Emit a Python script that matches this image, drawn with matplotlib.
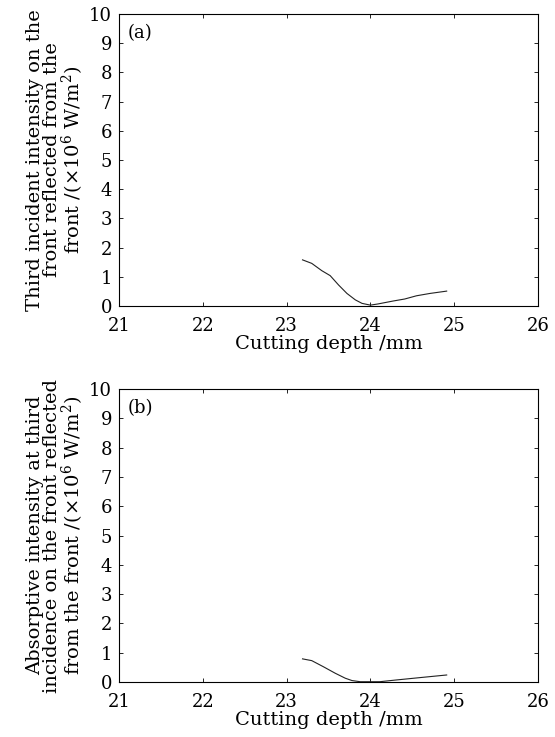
import numpy as np
import matplotlib
matplotlib.use('Agg')
import matplotlib.pyplot as plt

plt.rcParams['font.family'] = 'DejaVu Serif'
plt.rcParams['mathtext.fontset'] = 'dejavuserif'

# data
depth_a = [23.19, 23.30, 23.42, 23.52, 23.62, 23.72, 23.82, 23.90, 24.00, 24.09, 24.27, 24.41, 24.55, 24.71, 24.91]
inten_a = [1.58, 1.46, 1.21, 1.04, 0.72, 0.43, 0.21, 0.09, 0.03, 0.07, 0.17, 0.24, 0.35, 0.43, 0.51]

depth_b = [23.19, 23.30, 23.44, 23.58, 23.70, 23.78, 23.88, 24.11, 24.31, 24.59, 24.91]
inten_b = [0.79, 0.73, 0.52, 0.30, 0.13, 0.05, 0.01, 0.01, 0.07, 0.15, 0.24]

xticks = [21, 22, 23, 24, 25, 26]
yticks = list(range(0, 11))

ylabel_a = 'Third incident intensity on the\nfront reflected from the\nfront /($\\times$10$^6$ W/m$^2$)'
ylabel_b = 'Absorptive intensity at third\nincidence on the front reflected\nfrom the front /($\\times$10$^6$ W/m$^2$)'

fig = plt.figure(figsize=(5.55, 7.37), dpi=100)
ax1 = fig.add_axes([0.2144, 0.5848, 0.755, 0.3962])
ax2 = fig.add_axes([0.2144, 0.0746, 0.755, 0.3976])

for ax, x, y, lab, tag in [(ax1, depth_a, inten_a, ylabel_a, '(a)'),
                           (ax2, depth_b, inten_b, ylabel_b, '(b)')]:
    ax.plot(x, y, color='#222222', lw=0.8)
    ax.set_xlim(21, 26)
    ax.set_ylim(0, 10)
    ax.set_xticks(xticks)
    ax.set_yticks(yticks)
    ax.tick_params(direction='in', top=True, right=True, labelsize=13, length=3, width=0.6)
    ax.tick_params(axis='x', pad=8)
    ax.tick_params(axis='y', pad=5)
    ax.set_xlabel('Cutting depth /mm', fontsize=14, labelpad=0)
    ax.set_ylabel(lab, fontsize=14, linespacing=0.95, labelpad=2)
    ax.text(0.02, 0.965, tag, transform=ax.transAxes, fontsize=13, va='top', ha='left')
    for s in ax.spines.values():
        s.set_linewidth(0.8)

fig.savefig('out.png', dpi=100)
